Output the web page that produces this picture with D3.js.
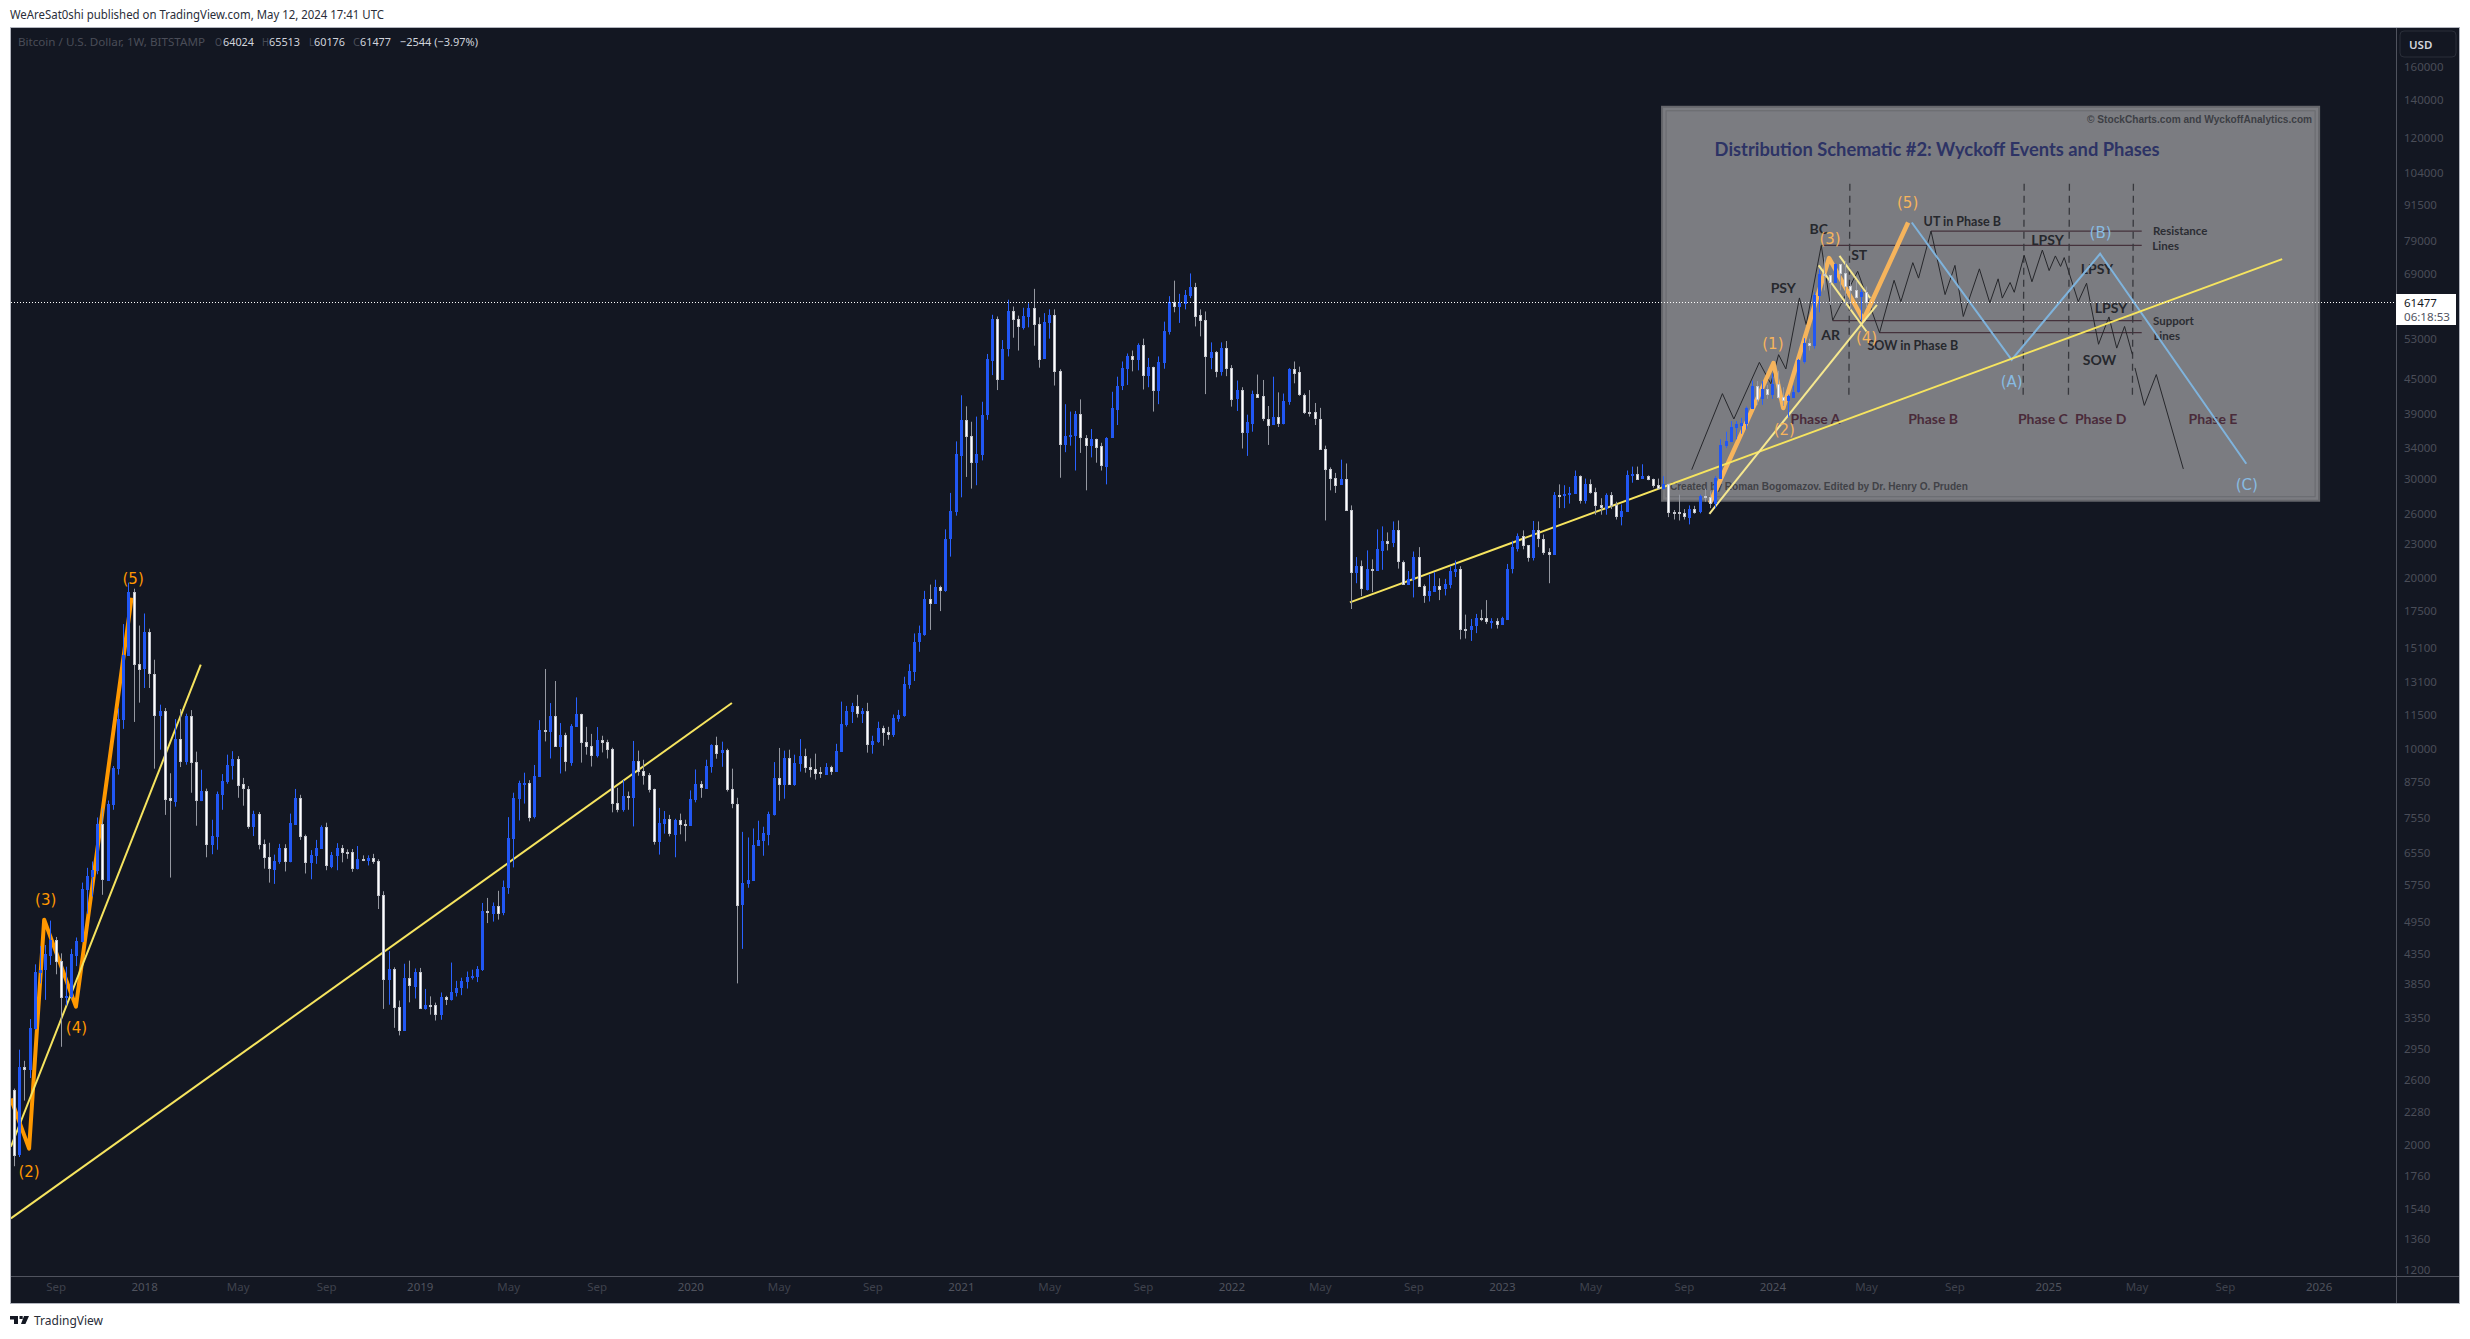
<!DOCTYPE html>
<html>
<head>
<meta charset="utf-8">
<title>BTCUSD 1W</title>
<script src="https://cdn.jsdelivr.net/npm/d3@7"></script>
<style>
  html, body { margin: 0; padding: 0; background: #fff; }
  svg { display: block; }
  text { font-family: "Noto Sans", sans-serif; }
</style>
</head>
<body>
<svg id="chart" width="2470" height="1339"></svg>
<script>
// weekly bars, first bar is the week of 2017-07-10, open of each bar = close of the one before
const firstOpen = 2500;
const weekClose = [
  1920,2740,2720,3215,4040,4070,4330,4600,4220,3640,3650,4330,4580,5660,5960,6100,7360,5880,8000,9250,
  11270,14640,18910,14130,13846,16060,13570,11500,11680,8170,8100,10410,9520,11430,9480,8130,8420,6780,7010,8320,
  8780,9370,9600,8650,8500,7310,7680,6790,6430,6140,6340,6680,6330,7380,8190,7010,6300,6480,6680,7270,
  6220,6500,6680,6570,6560,6150,6390,6380,6420,6330,5520,3920,4090,3500,3190,3935,3820,4040,3490,3530,
  3525,3394,3640,3610,3720,3780,3880,3950,3960,4080,5170,5140,5280,5140,5700,6950,8170,8700,8710,7595,
  8950,10780,10760,11420,10120,10570,9500,10980,11520,10260,10100,9730,10340,10260,9990,8005,7815,8250,8230,9510,
  9120,8970,8490,6880,7390,7510,7085,7490,7360,7350,8160,8660,8540,9330,10160,9840,9940,8480,8000,5310,
  5790,5860,6760,6900,7090,7680,8880,8680,9630,8670,9430,9720,9290,9220,9080,9030,9280,9140,9920,11070,
  11650,11900,11570,11670,10200,10320,10890,10720,10630,11340,11490,13030,13730,15460,15980,18400,18100,19330,19100,23500,
  26250,33100,38100,35700,32150,33200,38880,48700,57500,45050,50900,59200,57300,55650,58200,60100,56300,48900,56700,58400,
  46500,34600,35700,35800,39000,35450,34500,35300,34200,31600,35450,39900,43800,47000,49300,48800,51700,45800,47300,43000,
  48200,54700,61600,60600,61300,63400,65500,58300,57100,49300,50300,46500,51000,47100,41600,43000,36200,37700,42400,41900,
  38300,37400,38500,37600,41100,46900,46200,42200,39400,39300,38300,33900,31200,30100,29300,29900,26400,20500,21000,19200,
  20800,20700,22500,23300,23150,24300,21400,19550,19950,21800,19400,18700,19000,19400,19200,19500,20600,20800,16300,16280,
  16500,17000,16990,16800,16830,16600,17000,20800,22700,23800,22900,21800,24300,23500,22300,22100,28100,28050,28200,28300,
  30300,27450,29300,28400,26900,26650,28100,26950,25800,26300,30500,30600,30000,30300,29950,29200,28900,29350,26200,26150,
  26050,25700,26500,26200,27900,27850,27150,30050,34400,35000,37000,37400,37650,40000,43800,41500,43100,42300,44000,41800,
  41300,41900,42700,48500,52100,51700,63300,69000,68700,66700,71850,69200,65600,64600,62900,64024,61477
];
const weekHigh = [
  2510,2940,2810,3330,4160,4480,4500,4970,4650,4350,4120,4430,4640,5800,6160,6320,7560,7850,8100,9320,
  11780,16600,19650,19170,16500,17330,16290,14360,11960,11800,9050,11280,11750,11530,11700,9880,9180,8500,7490,8400,
  9020,9760,9900,9700,8880,8590,7770,7730,6910,6820,6500,6790,6780,7680,8490,8290,7050,6620,6900,7320,
  7400,6570,6810,6760,6640,6650,6730,6480,6480,6520,6380,5600,4390,4110,3590,4170,4223,4090,4100,3764,
  3652,3560,3710,3660,4190,3890,3940,4040,4070,4130,5340,5450,5350,5610,5850,7570,8360,8780,9070,8800,
  9360,11230,13830,12040,13170,11100,10670,11050,12320,11530,10930,10620,10920,10540,10370,10040,8530,8800,8400,10320,
  9920,9560,9060,8500,7860,7760,7640,7520,7680,7490,8440,9190,8770,9560,10180,10500,10290,10000,9220,8190,
  7130,6970,7230,7460,7280,7740,9470,10030,9920,9960,9760,10400,10000,9610,9800,9280,9430,9330,10200,12110,
  11900,12050,12450,11800,12050,10540,11160,10980,10930,11490,11710,13400,14100,15980,16500,19000,19490,19880,19400,24400,
  28300,34900,42100,40250,37800,38600,41000,49800,58400,58000,52700,62100,60400,58200,60100,61200,64900,57800,58800,59700,
  59700,46800,40600,39400,39500,41400,35800,36700,35300,34700,35500,42700,45400,48300,49900,50500,52000,53000,49000,47300,
  49300,56800,63000,67100,63600,64600,69100,66500,59700,59200,52200,50400,52200,52500,47600,44700,43500,38900,42900,45800,
  44800,40300,45400,42600,42400,47000,48300,47300,42400,43000,40800,40000,34300,31400,30700,32400,31900,26900,21800,21500,
  22400,21600,24400,24700,24100,25200,25300,21500,20600,22300,22700,19500,20300,20500,20000,19950,21000,21500,21000,17250,
  16950,17300,17600,18300,17000,17000,17100,21200,23300,24000,24300,22900,25250,25200,23900,22600,28400,29300,29200,29000,
  31000,30400,30000,29900,28900,27700,28250,28400,27300,27000,31000,31500,31500,31800,30400,30000,30000,30300,29400,26400,
  28100,26500,26900,26850,28100,28800,28500,30300,35200,36300,37900,37900,38400,40200,44700,44600,44600,43900,46000,46500,
  43500,42200,43800,48800,53100,53000,64000,70200,73800,68100,71950,71600,72700,66800,67100,64700,65513
];
const weekLow = [
  1830,1900,2390,2620,3190,3850,3600,4150,3995,2975,3520,3620,4130,4550,5110,5480,6000,5520,5850,7800,
  9000,10840,14600,11150,12060,12800,12800,9220,9960,7640,5920,7900,9280,9370,8360,7310,8080,6430,6510,6630,
  7800,8670,8820,8190,7930,7220,7010,6640,6140,5800,5770,6260,6070,6300,7360,6900,6020,5880,6260,6650,
  6100,6150,6100,6300,6390,6060,6120,6330,6220,6260,5210,3470,3530,3213,3116,3180,3564,3620,3480,3460,
  3390,3310,3320,3525,3590,3650,3670,3770,3910,3870,4050,4920,4950,4990,5080,5540,6170,7470,8000,7440,
  7530,8920,10300,9610,10080,9040,9120,9330,10950,9450,9760,9300,9650,9850,9610,7720,7720,7740,7800,7290,
  8960,8640,8370,6770,6500,7080,7000,6430,7060,6860,7320,8040,8190,8530,9070,9600,9290,8400,7850,3850,
  4430,5680,5860,6750,6470,6750,7620,8090,8160,8640,8600,9110,9070,8900,8820,8880,9030,8990,9110,9880,
  10940,11100,11350,11100,9840,9800,10240,10120,10370,10490,11160,11390,12760,13170,14830,15830,16210,18100,17500,18930,
  21840,25800,27800,30200,28800,29200,32300,38100,45700,43000,45000,49300,53200,50500,55000,55500,51500,47100,48900,53000,
  43800,30100,33400,34300,31000,33300,28600,32700,32000,31000,29300,35400,37300,43000,43900,46400,46600,43100,43500,39400,
  40600,46900,53900,59000,56500,59700,62500,55700,53500,42300,46800,45300,45600,45500,40200,39500,33900,32900,36300,41700,
  37900,34400,37300,37000,37400,40500,44200,42000,39000,38600,37300,33700,25300,28600,28300,29300,26400,17650,19600,18600,
  19030,18900,20700,20700,22400,22700,20800,19500,19500,18500,19300,18100,18200,18950,18300,18650,19200,20100,15600,15650,
  15500,16000,16800,16600,16300,16300,16600,17000,20400,22300,22500,21400,21500,22700,22000,19600,22000,26600,26600,27100,
  28200,27100,27100,28200,25900,25900,25900,26500,25400,24800,26200,29500,29900,30000,29800,28900,28700,28700,25650,25400,
  25300,25400,24900,26000,26050,27300,26600,26600,30000,34000,34800,35200,36000,36700,39800,40500,40500,41500,41500,41500,
  40300,38500,41700,42500,47900,50500,50900,59000,64500,60800,66500,64500,60600,59600,62400,57000,60176
];

// axis labels
const priceTicks = [160000,140000,120000,104000,91500,79000,69000,53000,45000,39000,34000,30000,26000,23000,20000,17500,15100,13100,11500,10000,8750,7550,6550,5750,4950,4350,3850,3350,2950,2600,2280,2000,1760,1540,1360,1200];
const timeTickWeeks = [8,25,43,60,78,95,112,130,147,165,182,199,217,234,251,269,286,303,321,338,356,373,391,408,425,443];
const timeTickLabels = ['Sep','2018','May','Sep','2019','May','Sep','2020','May','Sep','2021','May','Sep','2022','May','Sep','2023','May','Sep','2024','May','Sep','2025','May','Sep','2026'];

// drawings on the chart, [week index, price]
const waveLeft = [[-0.6,2409],[2.9,1966],[5.8,4989],[11.9,3502],[22.6,18480]];
const wavePanel = [[326,27160],[338.2,47990],[340.1,39970],[348.9,73560],[355.5,57230],[364.1,85000]];
const waveAbc = [[364.8,85000],[384,48640],[401,74860],[429.1,31870]];
const trendLines = [
  [[-0.6,1981],[35.9,14070]],
  [[-0.6,1480],[138,12040]],
  [[256.8,18130],[436,73250]]
];
const panelTrendLines = [
  [[325.9,26000],[358.1,60830]],
  [[346.9,71380],[356.1,54570]],
  [[350.9,74240],[356.8,62530]]
];
const waveLabelsLeft = [['(2)',2.9,1790],['(3)',6.1,5410],['(4)',12,3209],['(5)',22.9,19960]];
const waveLabelsPanel = [['(1)',338.1,51900],['(2)',340.3,36490],['(3)',349.1,79610],['(4)',356.1,53130],['(5)',364,91990]];
const waveLabelsAbc = [['(A)',384,44360],['(B)',401.1,81420],['(C)',429.2,29170]];

// wyckoff schematic pasted over the chart, same units
const schematicBox = [316.8,136100,443.1,27415];
const schematicPath = [[322.5,31100],[328.4,42380],[330.6,38230],[335.5,48130],[337.7,44130],[339.2,49660],[340.6,46860],[343.2,62550],[344.5,56100],[347.4,77400],[349.6,57100],[354.4,69700],[358.6,54300],[361.4,67200],[362.7,61600],[365,72200],[366.1,67800],[368.5,82100],[371.2,63400],[373.1,71400],[374.7,58000],[377.8,70400],[379.8,61300],[381.4,67600],[382.2,62500],[383.7,66600],[384.5,64000],[386.4,74400],[387.9,66800],[389.9,76000],[391.2,69900],[392.4,74200],[393.4,71100],[394.1,73700],[396.8,61600],[398.4,66400],[400.7,51800],[402.7,57900],[404.2,51000],[405.7,55700],[407.2,49700]];
const schematicTail = [[407.7,47050],[409.5,40400],[411.8,45800],[417,31200]];
const schematicLevels = [[368.5,409,82100],[347.4,409,77470],[349.6,409,57030],[358.6,409,54300]];
const schematicPhases = [352.9,386.4,395.1,407.4];
const schematicPhaseRange = [99510,41680];
const schematicEvents = [['PSY',340.1,65300],['BC',346.9,83100],['ST',354.7,74770],['AR',349.2,53880],['SOW',400.9,48640],['LPSY',390.9,79290],['LPSY',400.4,70465],['LPSY',403.1,60200]];
const schematicInPhase = [['UT in Phase B',374.5,85500],['SOW in Phase B',365,51550]];
const schematicNotes = [['Resistance',416.4,82300],['Lines',413.6,77470],['Support',415.1,57000],['Lines',413.8,53690]];
const schematicPhaseNames = [['Phase A',346.3],['Phase B',368.9],['Phase C',390],['Phase D',401.1],['Phase E',422.7]];
const phaseNamePrice = 38370;

const svg = d3.select('#chart');

const frame = { left: 10, top: 27, right: 2459, bottom: 1303 };
const plotRight = 2396;
const plotBottom = 1276;

const x = d3.scaleLinear().domain([0, 356]).range([14, 1866]);
const y = d3.scaleLog().domain([160000, 1200]).range([67, 1270]);
const line = d3.line().x(d => x(d[0])).y(d => y(d[1]));

// page frame
svg.append('rect').attr('width', 2470).attr('height', 1339).attr('fill', '#fff');
svg.append('rect')
  .attr('x', frame.left + 0.5).attr('y', frame.top + 0.5)
  .attr('width', frame.right - frame.left).attr('height', frame.bottom - frame.top)
  .attr('fill', '#131722').attr('stroke', '#b2b5be');

svg.append('clipPath').attr('id', 'plot-clip').append('rect')
  .attr('x', frame.left + 1).attr('y', frame.top + 1)
  .attr('width', plotRight - frame.left - 1).attr('height', plotBottom - frame.top - 1);

const plot = svg.append('g').attr('clip-path', 'url(#plot-clip)');

// schematic background
const [bx0, bp0, bx1, bp1] = schematicBox;
plot.append('rect')
  .attr('x', x(bx0)).attr('y', y(bp0))
  .attr('width', x(bx1) - x(bx0)).attr('height', y(bp1) - y(bp0))
  .attr('fill', '#7b7c81').attr('stroke', '#66676c').attr('stroke-width', 2);
plot.append('rect')
  .attr('x', x(bx0) + 4).attr('y', y(bp0) + 4)
  .attr('width', x(bx1) - x(bx0) - 8).attr('height', y(bp1) - y(bp0) - 8)
  .attr('fill', 'none').attr('stroke', '#696a6f').attr('stroke-width', 1);

plot.selectAll('.level').data(schematicLevels).join('line')
  .attr('x1', d => x(d[0])).attr('x2', d => x(d[1]))
  .attr('y1', d => y(d[2])).attr('y2', d => y(d[2]))
  .attr('stroke', '#45323c').attr('stroke-width', 1.3);

plot.selectAll('.phase').data(schematicPhases).join('line')
  .attr('x1', d => x(d)).attr('x2', d => x(d) - 1)
  .attr('y1', y(schematicPhaseRange[0])).attr('y2', y(schematicPhaseRange[1]))
  .attr('stroke', '#37383d').attr('stroke-width', 1.3).attr('stroke-dasharray', '7 5');

[schematicPath, schematicTail].forEach(p => {
  plot.append('path').attr('d', line(p)).attr('fill', 'none')
    .attr('stroke', '#26272b').attr('stroke-width', 1);
});

function addText(sel, rows, opts) {
  sel.selectAll(null).data(rows).join('text')
    .attr('x', d => x(d[1])).attr('y', d => y(d[2]))
    .attr('text-anchor', 'middle').attr('dominant-baseline', 'central')
    .attr('fill', opts.fill).attr('font-size', opts.size)
    .attr('font-weight', opts.weight || 400)
    .style('font-family', opts.family)
    .text(d => d[0]);
}

const schematicFont = 'Lato, "Open Sans", sans-serif';
addText(plot, schematicEvents, { fill: '#26282d', size: 14, weight: 700, family: schematicFont });
addText(plot, schematicInPhase, { fill: '#26282d', size: 12.5, weight: 700, family: schematicFont });
addText(plot, schematicNotes, { fill: '#2b2d33', size: 11.5, weight: 700, family: schematicFont });
addText(plot, schematicPhaseNames.map(d => [d[0], d[1], phaseNamePrice]), { fill: '#4a2b3a', size: 14, weight: 700, family: schematicFont });

plot.append('text')
  .attr('x', x(326.9)).attr('y', y(114560))
  .attr('dominant-baseline', 'central')
  .attr('fill', '#2d3365').attr('font-size', 18).attr('font-weight', 700)
  .attr('textLength', 445).attr('lengthAdjust', 'spacingAndGlyphs')
  .style('font-family', schematicFont)
  .text('Distribution Schematic #2: Wyckoff Events and Phases');
plot.append('text')
  .attr('x', x(398.5)).attr('y', y(129400))
  .attr('dominant-baseline', 'central')
  .attr('fill', '#3d3f45').attr('font-size', 10.5).attr('font-weight', 700)
  .attr('textLength', 225).attr('lengthAdjust', 'spacingAndGlyphs')
  .style('font-family', '"Liberation Sans", sans-serif')
  .text('© StockCharts.com and WyckoffAnalytics.com');
plot.append('text')
  .attr('x', x(318.3)).attr('y', y(29050))
  .attr('dominant-baseline', 'central')
  .attr('fill', '#414247').attr('font-size', 11).attr('font-weight', 700)
  .attr('textLength', 298).attr('lengthAdjust', 'spacingAndGlyphs')
  .style('font-family', '"Liberation Sans", sans-serif')
  .text('Created by Roman Bogomazov. Edited by Dr. Henry O. Pruden');

// drawings go under the candles
plot.append('path').attr('d', line(waveAbc)).attr('fill', 'none')
  .attr('stroke', '#7fb3dc').attr('stroke-width', 2);
plot.append('path').attr('d', line(waveLeft)).attr('fill', 'none')
  .attr('stroke', '#ff9800').attr('stroke-width', 4).attr('stroke-linejoin', 'round');
plot.append('path').attr('d', line(wavePanel)).attr('fill', 'none')
  .attr('stroke', '#f6b45c').attr('stroke-width', 4.5).attr('stroke-linejoin', 'round');

trendLines.forEach(p => {
  plot.append('path').attr('d', line(p)).attr('stroke', '#f6e45f').attr('stroke-width', 2);
});
panelTrendLines.forEach(p => {
  plot.append('path').attr('d', line(p)).attr('stroke', '#f6e88f').attr('stroke-width', 2);
});

// candles
const UP = '#2157f3';
const bars = weekClose.map((c, i) => ({
  i,
  open: i === 0 ? firstOpen : weekClose[i - 1],
  close: c,
  high: weekHigh[i],
  low: weekLow[i]
}));
const crisp = v => Math.round(v) + 0.5;

const candle = plot.append('g').selectAll('g').data(bars).join('g');
candle.append('line')
  .attr('x1', d => crisp(x(d.i))).attr('x2', d => crisp(x(d.i)))
  .attr('y1', d => y(d.high)).attr('y2', d => y(d.low))
  .attr('stroke', d => d.close >= d.open ? '#2962ff' : '#9598a1');
candle.append('rect')
  .attr('x', d => crisp(x(d.i)) - 1)
  .attr('width', 2)
  .attr('y', d => crisp(y(Math.max(d.open, d.close))))
  .attr('height', d => Math.max(1, Math.round(Math.abs(y(d.open) - y(d.close)))))
  .attr('fill', d => d.close >= d.open ? UP : '#ffffff')
  .attr('stroke', d => d.close >= d.open ? UP : '#c3c5cc');

// wave labels
addText(plot, waveLabelsLeft, { fill: '#ff9800', size: 15, family: '"DejaVu Sans", sans-serif' });
addText(plot, waveLabelsPanel, { fill: '#f6b45c', size: 15, family: '"DejaVu Sans", sans-serif' });
addText(plot, waveLabelsAbc, { fill: '#88bbe2', size: 15, family: '"DejaVu Sans", sans-serif' });

// last price dotted line
const lastPrice = weekClose[weekClose.length - 1];
svg.append('line')
  .attr('x1', frame.left + 1).attr('x2', plotRight)
  .attr('y1', crisp(y(lastPrice))).attr('y2', crisp(y(lastPrice)))
  .attr('stroke', '#ffffff').attr('stroke-dasharray', '1 2');

// axes
const yAxis = d3.axisRight(y).tickValues(priceTicks).tickSize(0).tickPadding(8).tickFormat(d3.format('d'));
const yG = svg.append('g').attr('transform', `translate(${plotRight},0)`).call(yAxis);
yG.select('.domain').remove();
yG.selectAll('text').attr('fill', '#4a4d58').attr('font-size', 11.5).style('font-family', '"Noto Sans", sans-serif');

const xAxis = d3.axisBottom(x).tickValues(timeTickWeeks).tickSize(0).tickPadding(7)
  .tickFormat((d, i) => timeTickLabels[i]);
const xG = svg.append('g').attr('transform', `translate(0,${plotBottom})`).call(xAxis);
xG.select('.domain').remove();
xG.selectAll('text')
  .attr('fill', (d, i) => /^\d/.test(timeTickLabels[i]) ? '#50535e' : '#3f424d')
  .attr('font-size', 11.5).style('font-family', '"Noto Sans", sans-serif');

svg.append('line').attr('x1', plotRight + 0.5).attr('x2', plotRight + 0.5)
  .attr('y1', frame.top + 1).attr('y2', frame.bottom)
  .attr('stroke', '#50535e');
svg.append('line').attr('x1', frame.left + 1).attr('x2', frame.right)
  .attr('y1', plotBottom + 0.5).attr('y2', plotBottom + 0.5)
  .attr('stroke', '#50535e');

// price tag
const tagY = crisp(y(lastPrice));
svg.append('rect').attr('x', plotRight).attr('y', tagY - 8.5).attr('width', 60).attr('height', 31).attr('fill', '#fff');
svg.append('text').attr('x', 2404).attr('y', tagY + 4).attr('font-size', 11.5).attr('fill', '#131722').text(String(lastPrice));
svg.append('text').attr('x', 2404).attr('y', tagY + 18).attr('font-size', 11.5).attr('fill', '#50535e')
  .attr('textLength', 46).attr('lengthAdjust', 'spacingAndGlyphs').text('06:18:53');

// currency button
svg.append('rect').attr('x', 2400).attr('y', 31).attr('width', 56).attr('height', 26).attr('rx', 4)
  .attr('fill', '#131722').attr('stroke', '#2a2e39');
svg.append('text').attr('x', 2409).attr('y', 49).attr('font-size', 11.5).attr('font-weight', 600).attr('fill', '#d1d4dc').text('USD');

// header lines
svg.append('text').attr('x', 10).attr('y', 19).attr('font-size', 12).attr('fill', '#2a2e39')
  .attr('textLength', 374).attr('lengthAdjust', 'spacingAndGlyphs')
  .text('WeAreSat0shi published on TradingView.com, May 12, 2024 17:41 UTC');

const legendDim = '#4a4d58';
const legendBright = '#d1d4dc';
const legend = [
  ['Bitcoin / U.S. Dollar, 1W, BITSTAMP', 18, 187, legendDim],
  ['O', 215, 7, legendDim], ['64024', 223, 31, legendBright],
  ['H', 262, 7, legendDim], ['65513', 269, 31, legendBright],
  ['L', 309, 5, legendDim], ['60176', 314, 31, legendBright],
  ['C', 353, 7, legendDim], ['61477', 360, 31, legendBright],
  ['−2544 (−3.97%)', 400, 78, legendBright]
];
svg.selectAll('.legend').data(legend).join('text')
  .attr('x', d => d[1]).attr('y', 46)
  .attr('font-size', 11.5).attr('fill', d => d[3])
  .attr('textLength', d => d[2]).attr('lengthAdjust', 'spacingAndGlyphs')
  .text(d => d[0]);

// TradingView mark
svg.append('path').attr('fill', '#131722')
  .attr('d', 'M10 1316h8v8h-4v-4.5h-4zM19.5 1316h3.2v3h-3.2zM24 1316h5l-3.6 8h-4.4z');
svg.append('text').attr('x', 34).attr('y', 1325).attr('font-size', 13).attr('fill', '#2a2e39')
  .attr('textLength', 69).attr('lengthAdjust', 'spacingAndGlyphs').text('TradingView');
</script>
</body>
</html>
